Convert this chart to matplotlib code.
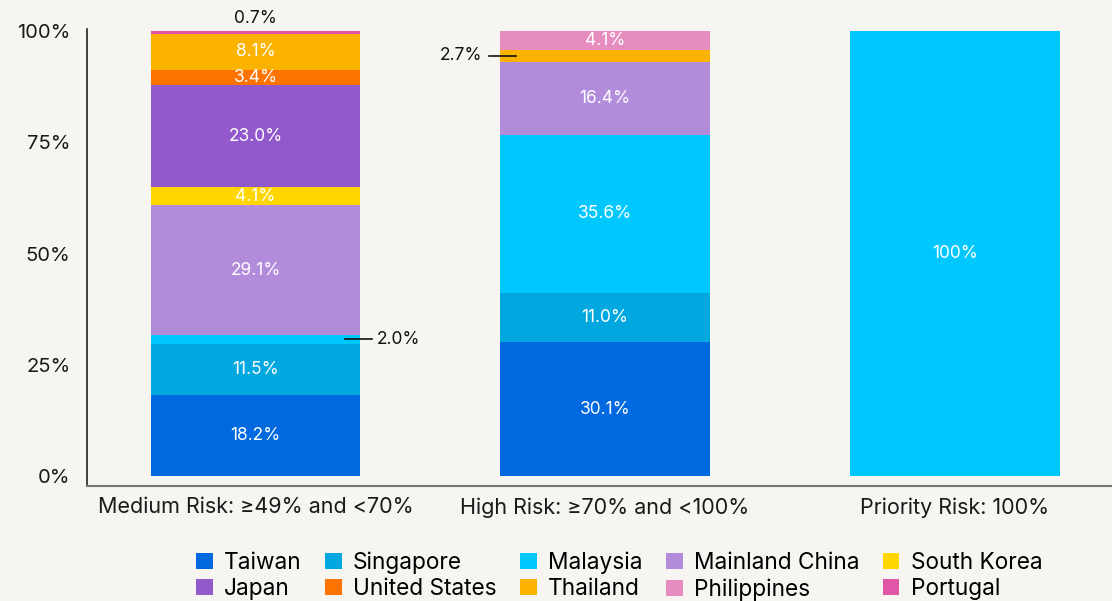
import matplotlib
matplotlib.use("Agg")
import matplotlib.pyplot as plt
import numpy as np

plt.rcParams['font.family'] = ['Inter', 'DejaVu Sans']

categories = ["Medium Risk: ≥49% and <70%", "High Risk: ≥70% and <100%", "Priority Risk: 100%"]
countries = ["Taiwan", "Singapore", "Malaysia", "Mainland China", "South Korea",
             "Japan", "United States", "Thailand", "Philippines", "Portugal"]
colors = ["#0069E0", "#00A8DF", "#00C8FF", "#B38BDB", "#FFD600",
          "#9159CB", "#FF7300", "#FCB300", "#E68CBF", "#E055A8"]

taiwan = [18.2, 30.1, 0]
singapore = [11.5, 11.0, 0]
malaysia = [2.0, 35.6, 100]
mainland_china = [29.1, 16.4, 0]
south_korea = [4.1, 0, 0]
japan = [23.0, 0, 0]
united_states = [3.4, 0, 0]
thailand = [8.1, 2.7, 0]
philippines = [0, 4.1, 0]
portugal = [0.7, 0, 0]
series = [taiwan, singapore, malaysia, mainland_china, south_korea,
          japan, united_states, thailand, philippines, portugal]

bg = "#F6F5F1"
fig = plt.figure(figsize=(11.12, 6.01), dpi=100, facecolor=bg)
ax = fig.add_axes([0.0782, 0.1913, 0.9218, 0.7604])
ax.set_facecolor(bg)

x = np.arange(len(categories))
w = 0.6
bottom = np.zeros(len(categories))
handles = []
for name, vals, c in zip(countries, series, colors):
    vals = np.array(vals, dtype=float)
    bars = ax.bar(x, vals, w, bottom=bottom, color=c, label=name, linewidth=0)
    handles.append(bars)
    labels = []
    for v in vals:
        if v >= 3:
            labels.append("100%" if v == 100 else f"{v:.1f}%")
        else:
            labels.append("")
    ax.bar_label(bars, labels=labels, label_type='center', color='white', fontsize=12.5)
    bottom += vals

# small segment callouts
mid_my = taiwan[0] + singapore[0] + malaysia[0] / 2
edge = x[0] + w / 2
ax.plot([edge - 0.043, edge + 0.034], [mid_my, mid_my], color='#111111', lw=1.2)
ax.text(edge + 0.046, mid_my, f"{malaysia[0]:.1f}%", ha='left', va='center', fontsize=12.5, color='#111111')

mid_th = taiwan[1] + singapore[1] + malaysia[1] + mainland_china[1] + thailand[1] / 2
edge2 = x[1] - w / 2
ax.plot([edge2 - 0.031, edge2 + 0.046], [mid_th, mid_th], color='#111111', lw=1.2)
ax.text(edge2 - 0.052, mid_th, f"{thailand[1]:.1f}%", ha='right', va='center', fontsize=12.5, color='#111111')

ax.text(x[0], sum(s[0] for s in series) + 0.8, f"{portugal[0]:.1f}%", ha='center', va='bottom',
        fontsize=12.5, color='#111111')

ax.set_ylim(-2.25, 100.45)
ax.set_xlim(-0.482, 2.45)
ax.set_yticks([0, 25, 50, 75, 100])
ax.set_yticklabels(["0%", "25%", "50%", "75%", "100%"], fontsize=14.5, color='#1a1a1a')
ax.set_xticks(x)
ax.set_xticklabels(categories, fontsize=15.5, color='#1a1a1a')
ax.tick_params(axis='y', length=0, pad=12)
ax.tick_params(axis='x', length=0, pad=8)
for s in ['top', 'right']:
    ax.spines[s].set_visible(False)
ax.spines['left'].set_color('#222222')
ax.spines['bottom'].set_color('#777777')
ax.spines['left'].set_linewidth(1.2)
ax.spines['bottom'].set_linewidth(1.5)

# legend: row-major order across 5 columns
order = [0, 5, 1, 6, 2, 7, 3, 8, 4, 9]
fig.legend([handles[i] for i in order], [countries[i] for i in order], ncol=5,
           loc='upper center', bbox_to_anchor=(0.557, 0.102), frameon=False,
           fontsize=16.3, handlelength=0.72, handleheight=0.72, handletextpad=0.5,
           columnspacing=1.05, labelspacing=0.2, borderpad=0)

fig.savefig("out.png", dpi=100, facecolor=bg)
